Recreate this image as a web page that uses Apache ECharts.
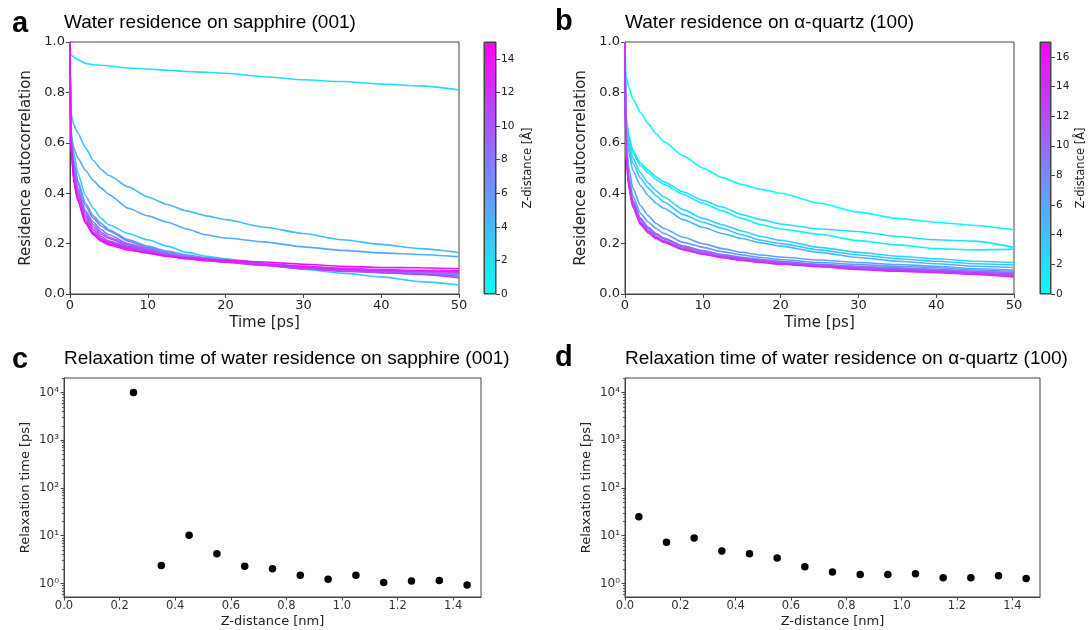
<!DOCTYPE html>
<html>
<head>
<meta charset="utf-8">
<script src="https://cdn.jsdelivr.net/npm/echarts@6/dist/echarts.min.js"></script>
<style>html,body{margin:0;padding:0;background:#fff;}#chart{width:1091px;height:630px;}</style>
</head>
<body>
<div id="chart"></div>
<script>
// ---------- DATA ----------
const time = [0, 0.1, 0.5, 1, 2, 3, 4, 5, 7.5, 10, 12.5, 15, 17.5, 20, 25, 30, 35, 40, 45, 50];

// Panel a: sapphire (001), curves by Z-distance [Å]
const sapphireZ = [2.5, 3.5, 4.5, 5.5, 6.5, 7.5, 8.5, 9.5, 10.5, 11.5, 12.5, 13.5, 14.5];
const sapphireCurves = [
  [1.0, 0.95, 0.94, 0.93, 0.915, 0.91, 0.908, 0.905, 0.897, 0.893, 0.888, 0.883, 0.88, 0.876, 0.862, 0.85, 0.843, 0.833, 0.826, 0.81],
  [1.0, 0.66, 0.56, 0.48, 0.39, 0.34, 0.30, 0.275, 0.24, 0.215, 0.19, 0.165, 0.15, 0.14, 0.12, 0.098, 0.083, 0.068, 0.049, 0.036],
  [1.0, 0.72, 0.67, 0.64, 0.58, 0.53, 0.495, 0.47, 0.425, 0.385, 0.355, 0.33, 0.31, 0.295, 0.265, 0.24, 0.215, 0.197, 0.18, 0.165],
  [1.0, 0.63, 0.58, 0.54, 0.49, 0.45, 0.42, 0.395, 0.34, 0.31, 0.285, 0.258, 0.235, 0.222, 0.207, 0.187, 0.173, 0.163, 0.157, 0.148],
  [1.0, 0.64, 0.53, 0.45, 0.36, 0.31, 0.28, 0.255, 0.215, 0.19, 0.17, 0.155, 0.145, 0.137, 0.122, 0.11, 0.095, 0.085, 0.08, 0.075],
  [1.0, 0.63, 0.52, 0.44, 0.35, 0.30, 0.27, 0.25, 0.21, 0.185, 0.165, 0.152, 0.142, 0.135, 0.12, 0.108, 0.097, 0.09, 0.085, 0.08],
  [1.0, 0.62, 0.50, 0.42, 0.33, 0.285, 0.255, 0.235, 0.20, 0.18, 0.16, 0.148, 0.14, 0.132, 0.118, 0.106, 0.096, 0.088, 0.085, 0.09],
  [1.0, 0.62, 0.49, 0.41, 0.32, 0.275, 0.245, 0.225, 0.195, 0.175, 0.158, 0.146, 0.137, 0.128, 0.114, 0.10, 0.09, 0.085, 0.08, 0.072],
  [1.0, 0.61, 0.48, 0.40, 0.31, 0.265, 0.237, 0.22, 0.19, 0.172, 0.156, 0.145, 0.136, 0.13, 0.118, 0.108, 0.10, 0.095, 0.09, 0.085],
  [1.0, 0.61, 0.47, 0.39, 0.30, 0.255, 0.228, 0.21, 0.185, 0.168, 0.152, 0.14, 0.132, 0.126, 0.113, 0.10, 0.092, 0.086, 0.078, 0.065],
  [1.0, 0.60, 0.46, 0.38, 0.29, 0.245, 0.22, 0.205, 0.182, 0.165, 0.152, 0.142, 0.134, 0.127, 0.115, 0.104, 0.097, 0.093, 0.09, 0.088],
  [1.0, 0.60, 0.45, 0.375, 0.285, 0.24, 0.215, 0.20, 0.178, 0.163, 0.15, 0.14, 0.133, 0.128, 0.118, 0.11, 0.102, 0.097, 0.094, 0.092],
  [1.0, 0.60, 0.44, 0.37, 0.28, 0.235, 0.21, 0.195, 0.175, 0.162, 0.15, 0.143, 0.138, 0.134, 0.127, 0.118, 0.11, 0.105, 0.104, 0.10]
];

// Panel b: alpha-quartz (100)
const quartzZ = [0.5, 1.5, 2.5, 3.5, 4.5, 5.5, 6.5, 7.5, 8.5, 9.5, 10.5, 11.5, 12.5, 13.5, 14.5];
const quartzCurves = [
  [1.0, 0.87, 0.82, 0.775, 0.72, 0.675, 0.635, 0.605, 0.548, 0.50, 0.462, 0.435, 0.415, 0.40, 0.36, 0.325, 0.30, 0.285, 0.272, 0.255],
  [1.0, 0.70, 0.62, 0.56, 0.51, 0.48, 0.455, 0.435, 0.395, 0.36, 0.33, 0.30, 0.275, 0.258, 0.237, 0.212, 0.195, 0.18, 0.175, 0.178],
  [1.0, 0.71, 0.63, 0.57, 0.52, 0.49, 0.465, 0.445, 0.405, 0.372, 0.345, 0.315, 0.295, 0.278, 0.258, 0.248, 0.228, 0.215, 0.21, 0.185],
  [1.0, 0.68, 0.60, 0.54, 0.48, 0.44, 0.41, 0.385, 0.335, 0.30, 0.275, 0.25, 0.228, 0.213, 0.185, 0.165, 0.15, 0.14, 0.13, 0.125],
  [1.0, 0.67, 0.58, 0.52, 0.46, 0.42, 0.39, 0.365, 0.315, 0.285, 0.26, 0.235, 0.213, 0.20, 0.175, 0.155, 0.14, 0.13, 0.12, 0.115],
  [1.0, 0.66, 0.56, 0.49, 0.43, 0.39, 0.36, 0.34, 0.295, 0.265, 0.24, 0.22, 0.203, 0.19, 0.165, 0.145, 0.13, 0.12, 0.11, 0.105],
  [1.0, 0.62, 0.50, 0.42, 0.35, 0.31, 0.28, 0.26, 0.225, 0.20, 0.18, 0.165, 0.155, 0.147, 0.135, 0.125, 0.117, 0.11, 0.10, 0.095],
  [1.0, 0.60, 0.47, 0.39, 0.32, 0.285, 0.26, 0.24, 0.205, 0.185, 0.168, 0.155, 0.145, 0.137, 0.125, 0.117, 0.11, 0.104, 0.095, 0.09],
  [1.0, 0.58, 0.45, 0.37, 0.30, 0.265, 0.24, 0.222, 0.19, 0.172, 0.157, 0.146, 0.137, 0.13, 0.118, 0.11, 0.104, 0.098, 0.09, 0.085],
  [1.0, 0.58, 0.44, 0.365, 0.295, 0.26, 0.235, 0.218, 0.187, 0.168, 0.153, 0.142, 0.133, 0.126, 0.115, 0.107, 0.101, 0.096, 0.088, 0.082],
  [1.0, 0.58, 0.445, 0.37, 0.30, 0.262, 0.238, 0.22, 0.19, 0.17, 0.155, 0.143, 0.134, 0.127, 0.116, 0.108, 0.10, 0.094, 0.087, 0.08],
  [1.0, 0.57, 0.43, 0.355, 0.285, 0.25, 0.226, 0.21, 0.18, 0.162, 0.148, 0.137, 0.128, 0.122, 0.112, 0.104, 0.097, 0.09, 0.082, 0.077],
  [1.0, 0.57, 0.43, 0.35, 0.28, 0.247, 0.223, 0.207, 0.178, 0.16, 0.146, 0.135, 0.126, 0.12, 0.11, 0.10, 0.095, 0.092, 0.085, 0.075],
  [1.0, 0.57, 0.435, 0.355, 0.285, 0.25, 0.226, 0.21, 0.18, 0.162, 0.148, 0.137, 0.128, 0.121, 0.11, 0.098, 0.092, 0.088, 0.082, 0.07],
  [1.0, 0.56, 0.42, 0.345, 0.275, 0.242, 0.22, 0.205, 0.175, 0.158, 0.144, 0.133, 0.125, 0.118, 0.108, 0.097, 0.09, 0.085, 0.078, 0.068]
];

// Panels c, d: relaxation times [ps] vs Z-distance [nm]
const sapphireDist = [0.25, 0.35, 0.45, 0.55, 0.65, 0.75, 0.85, 0.95, 1.05, 1.15, 1.25, 1.35, 1.45];
const sapphireTau  = [10000, 2.38, 10.2, 4.17, 2.30, 2.02, 1.49, 1.23, 1.49, 1.05, 1.12, 1.15, 0.93];
const quartzDist = [0.05, 0.15, 0.25, 0.35, 0.45, 0.55, 0.65, 0.75, 0.85, 0.95, 1.05, 1.15, 1.25, 1.35, 1.45];
const quartzTau  = [24.8, 7.3, 8.9, 4.75, 4.17, 3.39, 2.23, 1.73, 1.54, 1.54, 1.59, 1.31, 1.31, 1.44, 1.27];

// Tick labels / ranges
const timeTicks = [0, 10, 20, 30, 40, 50];
const corrTicks = [0, 0.2, 0.4, 0.6, 0.8, 1.0];
const cbTicksA = [0, 2, 4, 6, 8, 10, 12, 14];
const cbTicksB = [0, 2, 4, 6, 8, 10, 12, 14, 16];
const cbMax = [15, 17];
const distTicks = [0, 0.2, 0.4, 0.6, 0.8, 1.0, 1.2, 1.4];
const tauTicks = [1, 10, 100, 1000, 10000];
const tauMinorTicks = [0.6, 0.7, 0.8, 0.9,
  2, 3, 4, 5, 6, 7, 8, 9,
  20, 30, 40, 50, 60, 70, 80, 90,
  200, 300, 400, 500, 600, 700, 800, 900,
  2000, 3000, 4000, 5000, 6000, 7000, 8000, 9000, 20000];

// ---------- CHART ----------
const cool = t => `rgb(${Math.round(255 * t)},${Math.round(255 * (1 - t))},255)`;
const sup = {'0':'⁰','1':'¹','2':'²','3':'³','4':'⁴','5':'⁵'};
const DV = 'DejaVu Sans';
const LS = 'Liberation Sans';
const txt = '#222';

const grids = [
  {left: 70, top: 42, width: 389, height: 252},   // a
  {left: 484, top: 42, width: 12, height: 252},   // cb a
  {left: 625, top: 42, width: 389, height: 252},  // b
  {left: 1040, top: 42, width: 11, height: 252},  // cb b
  {left: 64, top: 378, width: 417, height: 219},  // c
  {left: 625, top: 378, width: 415, height: 219}  // d
].map(g => Object.assign({show: true, borderColor: '#444', borderWidth: 1, containLabel: false}, g));

function lineXAxis(gi) {
  return {
    gridIndex: gi, type: 'value', min: 0, max: 50, interval: 10,
    name: 'Time [ps]', nameLocation: 'middle', nameGap: 22,
    nameTextStyle: {fontFamily: DV, fontSize: 15, color: txt},
    axisLine: {show: true, lineStyle: {color: '#444'}},
    axisTick: {show: true, length: 4, lineStyle: {color: '#444'}, customValues: timeTicks},
    axisLabel: {fontFamily: DV, fontSize: 13, color: txt, margin: 5, customValues: timeTicks},
    splitLine: {show: false}
  };
}
function lineYAxis(gi) {
  return {
    gridIndex: gi, type: 'value', min: 0, max: 1, interval: 0.2,
    name: 'Residence autocorrelation', nameLocation: 'middle', nameGap: 36,
    nameTextStyle: {fontFamily: DV, fontSize: 15, color: txt},
    axisLine: {show: true, lineStyle: {color: '#444'}},
    axisTick: {show: true, length: 4, lineStyle: {color: '#444'}, customValues: corrTicks},
    axisLabel: {fontFamily: DV, fontSize: 13, color: txt, margin: 5, customValues: corrTicks,
      formatter: v => v.toFixed(1)},
    splitLine: {show: false}
  };
}
function cbXAxis(gi) {
  return {gridIndex: gi, type: 'category', data: ['cb'], show: false};
}
function cbYAxis(gi, max, ticks, gap) {
  return {
    gridIndex: gi, type: 'value', min: 0, max: max, position: 'right',
    name: 'Z-distance [Å]', nameLocation: 'middle', nameGap: gap, nameRotate: 90,
    nameTextStyle: {fontFamily: DV, fontSize: 11.5, color: txt},
    axisLine: {show: false},
    axisTick: {show: true, length: 4, lineStyle: {color: '#444'}, customValues: ticks},
    axisLabel: {fontFamily: DV, fontSize: 10.5, color: txt, margin: 5, customValues: ticks},
    splitLine: {show: false}
  };
}
function distXAxis(gi) {
  return {
    gridIndex: gi, type: 'value', min: 0, max: 1.5,
    name: 'Z-distance [nm]', nameLocation: 'middle', nameGap: 18,
    nameTextStyle: {fontFamily: DV, fontSize: 13, color: txt},
    axisLine: {show: true, lineStyle: {color: '#444'}},
    axisTick: {show: true, length: 3.5, lineStyle: {color: '#444'}, customValues: distTicks},
    axisLabel: {fontFamily: DV, fontSize: 11.5, color: '#333', margin: 3, customValues: distTicks,
      formatter: v => v.toFixed(1)},
    splitLine: {show: false}
  };
}
function tauYAxis(gi) {
  return {
    gridIndex: gi, type: 'log', logBase: 10, min: 0.52, max: 20000,
    name: 'Relaxation time [ps]', nameLocation: 'middle', nameGap: 32,
    nameTextStyle: {fontFamily: DV, fontSize: 13, color: txt},
    axisLine: {show: true, lineStyle: {color: '#444'}},
    axisTick: {show: true, length: 3.5, lineStyle: {color: '#444'}, customValues: tauTicks},
    axisLabel: {fontFamily: DV, fontSize: 12, color: '#333', margin: 5, customValues: tauTicks,
      formatter: v => '10' + String(Math.round(Math.log10(v))).split('').map(c => sup[c]).join('')},
    splitLine: {show: false}
  };
}
function tauMinorAxis(gi) {
  return {
    gridIndex: gi, type: 'log', logBase: 10, min: 0.52, max: 20000, position: 'left',
    axisLine: {show: false},
    axisTick: {show: true, length: 2, lineStyle: {color: '#555'}, customValues: tauMinorTicks},
    axisLabel: {show: false},
    splitLine: {show: false}
  };
}

const colorOf = (z, max) => cool(Math.max(0, (z - 0.5)) / max);

const series = [];
sapphireCurves.forEach((vals, i) => {
  series.push({
    type: 'line', xAxisIndex: 0, yAxisIndex: 0, showSymbol: false, silent: true,
    smooth: 0.2, smoothMonotone: 'x',
    lineStyle: {width: 1.6, color: colorOf(sapphireZ[i], cbMax[0])},
    data: time.map((t, k) => [t, vals[k]])
  });
});
quartzCurves.forEach((vals, i) => {
  series.push({
    type: 'line', xAxisIndex: 2, yAxisIndex: 2, showSymbol: false, silent: true,
    smooth: 0.2, smoothMonotone: 'x',
    lineStyle: {width: 1.6, color: colorOf(quartzZ[i], cbMax[1])},
    data: time.map((t, k) => [t, vals[k]])
  });
});
const cbGrad = () => new echarts.graphic.LinearGradient(0, 1, 0, 0, [
  {offset: 0, color: cool(0)}, {offset: 1, color: cool(1)}
]);
series.push({type: 'bar', xAxisIndex: 1, yAxisIndex: 1, data: [cbMax[0]], barWidth: '100%', silent: true,
  itemStyle: {color: cbGrad(), borderColor: '#444', borderWidth: 1}});
series.push({type: 'bar', xAxisIndex: 3, yAxisIndex: 3, data: [cbMax[1]], barWidth: '100%', silent: true,
  itemStyle: {color: cbGrad(), borderColor: '#444', borderWidth: 1}});
series.push({type: 'scatter', xAxisIndex: 4, yAxisIndex: 4, symbolSize: 7.5, silent: true,
  itemStyle: {color: '#000', opacity: 1}, data: sapphireDist.map((d, i) => [d, sapphireTau[i]])});
series.push({type: 'scatter', xAxisIndex: 5, yAxisIndex: 5, symbolSize: 7.5, silent: true,
  itemStyle: {color: '#000', opacity: 1}, data: quartzDist.map((d, i) => [d, quartzTau[i]])});

function ttl(text, left, top, size, bold) {
  return {text: text, left: left, top: top, padding: 0,
    textStyle: {fontFamily: LS, fontSize: size, fontWeight: bold ? 'bold' : 'normal', color: '#000', lineHeight: size}};
}

const option = {
  animation: false,
  backgroundColor: '#fff',
  title: [
    ttl('a', 12, 9, 29, true),
    ttl('Water residence on sapphire (001)', 64, 13, 19, false),
    ttl('b', 555, 7, 29, true),
    ttl('Water residence on α-quartz (100)', 625, 13, 19, false),
    ttl('c', 12, 345, 29, true),
    ttl('Relaxation time of water residence on sapphire (001)', 64, 349, 19, false),
    ttl('d', 555, 343, 29, true),
    ttl('Relaxation time of water residence on α-quartz (100)', 625, 349, 19, false)
  ],
  grid: grids,
  xAxis: [lineXAxis(0), cbXAxis(1), lineXAxis(2), cbXAxis(3), distXAxis(4), distXAxis(5)],
  yAxis: [lineYAxis(0), cbYAxis(1, cbMax[0], cbTicksA, 26), lineYAxis(2), cbYAxis(3, cbMax[1], cbTicksB, 24),
          tauYAxis(4), tauYAxis(5), tauMinorAxis(4), tauMinorAxis(5)],
  series: series
};

const chart = echarts.init(document.getElementById('chart'), null, {renderer: 'canvas'});
chart.setOption(option);
</script>
</body>
</html>
